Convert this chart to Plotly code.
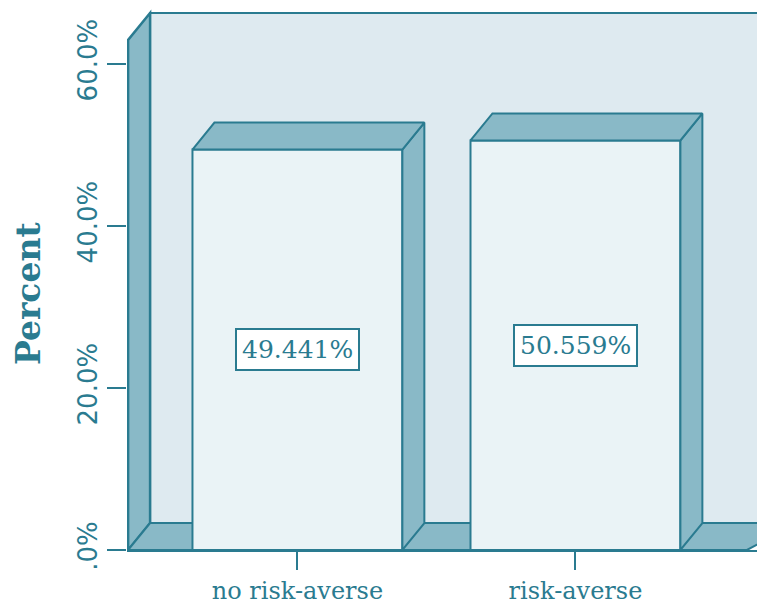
import plotly.graph_objects as go

categories = ["no risk-averse", "risk-averse"]
percents = [49.441, 50.559]
value_labels = ["49.441%", "50.559%"]
ytick_vals = [0, 20, 40, 60]
ytick_text = [".0%", "20.0%", "40.0%", "60.0%"]

TEAL = "#2a7b90"
SIDE = "#89b9c7"
BACK = "#deeaf0"
FRONT = "#eaf3f6"
SERIF = "DejaVu Serif"
SANS = "DejaVu Sans"

XR = [-0.613, 1.653]
YR = [0, 67.9]
DX = 0.079
DY = 3.33
TOP = 66.3
BW = 0.755
FLOOR_R = 1.617
EDGE = 0.004

fig = go.Figure()

x0 = XR[0] + EDGE
shapes = [
    dict(type="rect", xref="x", yref="y", x0=x0 + DX, x1=XR[1] + 0.2, y0=DY, y1=TOP,
         fillcolor=BACK, line=dict(color=TEAL, width=2), layer="below"),
    dict(type="path", xref="x", yref="y",
         path=f"M {x0},0 L {x0+DX},{DY} L {x0+DX},{TOP} L {x0},{TOP-DY} Z",
         fillcolor=SIDE, line=dict(color=TEAL, width=2.5), layer="below"),
    dict(type="path", xref="x", yref="y",
         path=f"M {x0},0 L {x0+DX},{DY} L {FLOOR_R+DX+0.1},{DY} L {FLOOR_R},0 Z",
         fillcolor=SIDE, line=dict(color=TEAL, width=2), layer="below"),
]

xs = list(range(len(categories)))
fig.add_trace(go.Bar(x=xs, y=percents, width=BW, marker=dict(color=FRONT, line=dict(color=TEAL, width=2)),
                     hoverinfo="skip", showlegend=False))

for xi, v in zip(xs, percents):
    l, r = xi - BW / 2, xi + BW / 2
    fig.add_trace(go.Scatter(x=[r, r + DX, r + DX, r, r], y=[0, DY, v + DY, v, 0], mode="lines",
                             fill="toself", fillcolor=SIDE, line=dict(color=TEAL, width=2),
                             hoverinfo="skip", showlegend=False))
    fig.add_trace(go.Scatter(x=[l, l + DX, r + DX, r, l], y=[v, v + DY, v + DY, v, v], mode="lines",
                             fill="toself", fillcolor=SIDE, line=dict(color=TEAL, width=2),
                             hoverinfo="skip", showlegend=False))

annotations = []
for xi, v, t in zip(xs, percents, value_labels):
    annotations.append(dict(x=xi, y=v / 2, xref="x", yref="y", text=t, showarrow=False,
                            font=dict(family=SERIF, size=25, color=TEAL),
                            bgcolor="white", bordercolor=TEAL, borderwidth=2, borderpad=5))

annotations.append(dict(x=0, y=1 - 294 / 550, xref="paper", yref="paper", text="<b>Percent</b>",
                        showarrow=False, textangle=-90, xanchor="center", yanchor="middle",
                        xshift=-99, font=dict(family=SERIF, size=33, color=TEAL)))

fig.update_layout(
    width=757, height=605,
    margin=dict(l=127, r=0, t=0, b=55),
    paper_bgcolor="white", plot_bgcolor="white",
    shapes=shapes, annotations=annotations,
    xaxis=dict(range=XR, tickvals=xs, ticktext=categories, showgrid=False, zeroline=False,
               showline=True, linecolor=TEAL, linewidth=2, ticks="outside", ticklen=18,
               tickwidth=2, tickcolor=TEAL, tickfont=dict(family=SERIF, size=24, color=TEAL)),
    yaxis=dict(range=YR, tickvals=ytick_vals, ticktext=ytick_text, showgrid=False, zeroline=False,
               showline=False, ticks="outside", ticklen=19,
               tickwidth=2, tickcolor=TEAL, tickangle=-90,
               tickfont=dict(family=SANS, size=26, color=TEAL)),
)

fig.write_html("out.html")
